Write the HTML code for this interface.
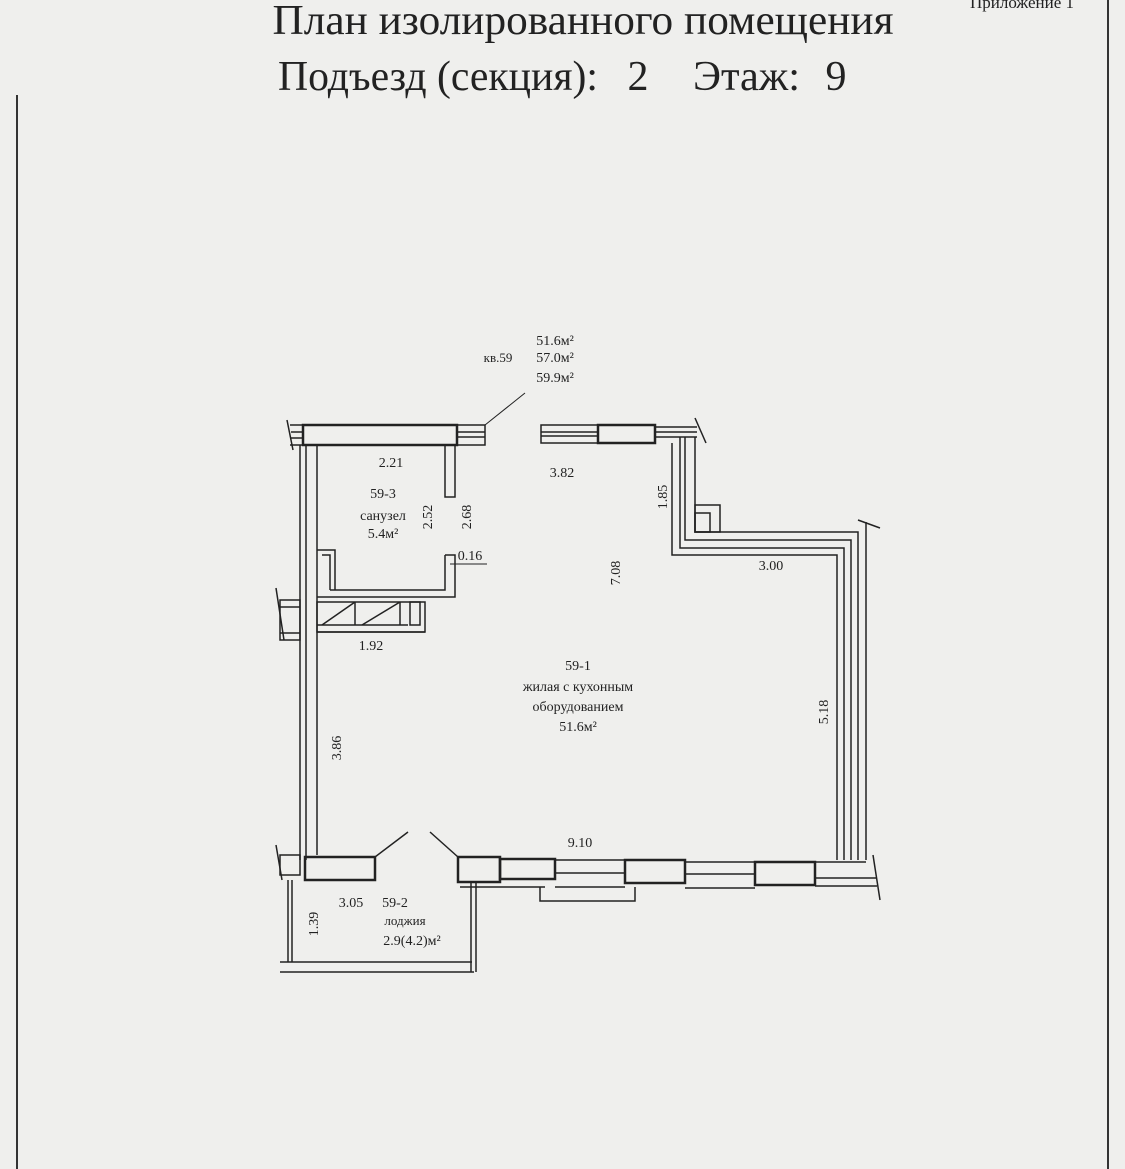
<!DOCTYPE html>
<html><head><meta charset="utf-8"><style>
html,body{margin:0;padding:0;background:#efefed;}
svg{display:block}
text{font-family:"Liberation Serif",serif;fill:#222}
</style></head><body>
<svg width="1125" height="1169" viewBox="0 0 1125 1169" xmlns="http://www.w3.org/2000/svg">
<rect width="1125" height="1169" fill="#efefed"/>
<line x1="17" y1="95" x2="17" y2="1169" stroke="#333" stroke-width="2"/>
<line x1="1108" y1="0" x2="1108" y2="1169" stroke="#333" stroke-width="2"/>
<text x="1022" y="8" font-size="17" text-anchor="middle">Приложение 1</text>
<text x="583" y="34" font-size="42" text-anchor="middle" textLength="621" lengthAdjust="spacingAndGlyphs">План изолированного помещения</text>
<text x="278" y="90" font-size="42" textLength="320" lengthAdjust="spacingAndGlyphs">Подъезд (секция):</text>
<text x="638" y="90" font-size="42" text-anchor="middle">2</text>
<text x="693" y="90" font-size="42" textLength="107" lengthAdjust="spacingAndGlyphs">Этаж:</text>
<text x="836" y="90" font-size="42" text-anchor="middle">9</text>

<g stroke="#222" fill="none" stroke-width="1.5">
<rect x="303" y="425" width="154" height="20" stroke-width="2.5"/>
<line x1="290" y1="425" x2="303" y2="425"/><line x1="290" y1="445" x2="303" y2="445"/>
<line x1="287" y1="420" x2="293" y2="450"/>
<line x1="291" y1="432" x2="303" y2="432"/><line x1="291" y1="438" x2="303" y2="438"/>
<rect x="457" y="425" width="28" height="20"/>
<line x1="457" y1="432" x2="485" y2="432"/><line x1="457" y1="437" x2="485" y2="437"/>
<line x1="485" y1="425" x2="525" y2="393" stroke-width="1"/>
<rect x="541" y="425" width="57" height="18"/>
<line x1="541" y1="432" x2="598" y2="432"/><line x1="541" y1="436" x2="598" y2="436"/>
<rect x="598" y="425" width="57" height="18" stroke-width="2.5"/>
<polyline points="655,427 697,427"/><polyline points="655,432 697,432"/><polyline points="655,437 697,437"/>
<line x1="695" y1="418" x2="706" y2="443"/>
<polyline points="695,437 695,532 858,532 858,860"/>
<polyline points="685,437 685,540 851,540 851,860"/>
<polyline points="680,437 680,548 844,548 844,860"/>
<polyline points="672,443 672,555 837,555 837,860"/>
<polyline points="866,522 866,860"/>
<line x1="858" y1="520" x2="880" y2="528"/>
<rect x="695" y="505" width="25" height="27"/><rect x="695" y="513" width="15" height="19"/>
<line x1="300" y1="445" x2="300" y2="860"/>
<line x1="306" y1="445" x2="306" y2="860"/>
<line x1="317" y1="445" x2="317" y2="855"/>
<rect x="445" y="445" width="10" height="52"/>
<polyline points="445,555 455,555 455,597 317,597"/>
<polyline points="445,555 445,590 330,590"/>
<polyline points="317,550 335,550 335,590"/>
<polyline points="322,555 330,555 330,590"/>
<rect x="280" y="600" width="20" height="40"/>
<line x1="280" y1="607" x2="300" y2="607"/><line x1="280" y1="633" x2="300" y2="633"/>
<line x1="276" y1="588" x2="284" y2="640"/>
<rect x="317" y="602" width="108" height="30"/>
<line x1="317" y1="632" x2="425" y2="632"/>
<line x1="355" y1="602" x2="355" y2="625"/><line x1="400" y1="602" x2="400" y2="625"/>
<line x1="322" y1="625" x2="355" y2="602"/><line x1="362" y1="625" x2="400" y2="602"/>
<rect x="410" y="602" width="10" height="23"/>
<line x1="317" y1="625" x2="408" y2="625"/>
<rect x="280" y="855" width="20" height="20"/>
<line x1="276" y1="845" x2="282" y2="880"/>
<rect x="305" y="857" width="70" height="23" stroke-width="2.5"/>
<line x1="375" y1="857" x2="408" y2="832"/>
<line x1="430" y1="832" x2="458" y2="857"/>
<rect x="458" y="857" width="42" height="25" stroke-width="2.5"/>
<rect x="500" y="859" width="55" height="20" stroke-width="2.5"/>
<line x1="555" y1="860" x2="625" y2="860"/><line x1="555" y1="873" x2="625" y2="873"/><line x1="555" y1="887" x2="625" y2="887"/>
<rect x="625" y="860" width="60" height="23" stroke-width="2.5"/>
<line x1="685" y1="862" x2="755" y2="862"/><line x1="685" y1="874" x2="755" y2="874"/><line x1="685" y1="888" x2="755" y2="888"/>
<rect x="755" y="862" width="60" height="23" stroke-width="2.5"/>
<polyline points="815,862 866,862"/><polyline points="815,878 877,878"/><polyline points="815,886 877,886"/>
<line x1="873" y1="855" x2="880" y2="900"/>
<line x1="460" y1="887" x2="545" y2="887"/>
<polyline points="540,887 540,901 635,901 635,887"/>
<line x1="288" y1="880" x2="288" y2="962"/><line x1="292" y1="880" x2="292" y2="962"/>
<line x1="280" y1="962" x2="472" y2="962"/><line x1="280" y1="972" x2="474" y2="972"/>
<line x1="471" y1="882" x2="471" y2="972"/><line x1="476" y1="882" x2="476" y2="972"/>
<line x1="450" y1="564" x2="487" y2="564" stroke-width="1"/>
</g>

<g font-size="14">
<text x="555" y="345" text-anchor="middle">51.6м²</text>
<text x="555" y="362" text-anchor="middle">57.0м²</text>
<text x="555" y="382" text-anchor="middle">59.9м²</text>
<text x="498" y="362" text-anchor="middle" font-size="13">кв.59</text>
<text x="391" y="467" text-anchor="middle">2.21</text>
<text x="562" y="477" text-anchor="middle">3.82</text>
<text x="383" y="498" text-anchor="middle">59-3</text>
<text x="383" y="520" text-anchor="middle">санузел</text>
<text x="383" y="538" text-anchor="middle">5.4м²</text>
<text x="470" y="560" text-anchor="middle">0.16</text>
<text x="371" y="650" text-anchor="middle">1.92</text>
<text x="771" y="570" text-anchor="middle">3.00</text>
<text x="578" y="670" text-anchor="middle">59-1</text>
<text x="578" y="691" text-anchor="middle">жилая с кухонным</text>
<text x="578" y="711" text-anchor="middle">оборудованием</text>
<text x="578" y="731" text-anchor="middle">51.6м²</text>
<text x="580" y="847" text-anchor="middle">9.10</text>
<text x="351" y="907" text-anchor="middle">3.05</text>
<text x="395" y="907" text-anchor="middle">59-2</text>
<text x="405" y="925" text-anchor="middle" font-size="13">лоджия</text>
<text x="412" y="945" text-anchor="middle">2.9(4.2)м²</text>
<text transform="translate(432,517) rotate(-90)" text-anchor="middle">2.52</text>
<text transform="translate(471,517) rotate(-90)" text-anchor="middle">2.68</text>
<text transform="translate(667,497) rotate(-90)" text-anchor="middle">1.85</text>
<text transform="translate(620,573) rotate(-90)" text-anchor="middle">7.08</text>
<text transform="translate(828,712) rotate(-90)" text-anchor="middle">5.18</text>
<text transform="translate(341,748) rotate(-90)" text-anchor="middle">3.86</text>
<text transform="translate(318,924) rotate(-90)" text-anchor="middle">1.39</text>
</g>
</svg>
</body></html>
